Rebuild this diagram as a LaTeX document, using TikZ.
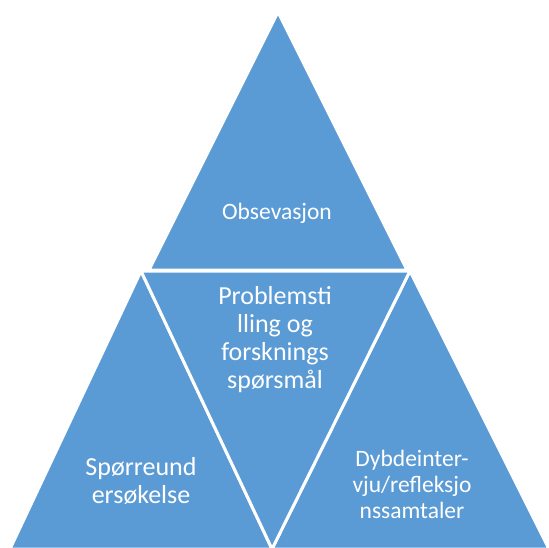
\documentclass[tikz,border=0pt]{standalone}
\usepackage{fontspec}
\setmainfont{Carlito}
\definecolor{pyrblue}{HTML}{5B9BD5}

\begin{document}
\begin{tikzpicture}[
	x=1pt, y=-1pt,
	piece/.style = {fill=pyrblue, draw=white, line width=3pt, line join=miter},
	label/.style = {text=white, align=center, font=\fontsize{23.5}{28}\selectfont},
	biglabel/.style = {label, font=\fontsize{26}{28}\selectfont},
	tightlabel/.style = {label, font=\fontsize{23.5}{26}\selectfont},
]
\useasboundingbox (0,0) rectangle (549,547);

% the four triangles
\filldraw[piece] (278,12) -- (407,270) -- (149,270) -- cycle;
\filldraw[piece] (141,271) -- (272,549) -- (10,549) -- cycle;
\filldraw[piece] (410,271) -- (549,549) -- (272,549) -- cycle;
\filldraw[piece] (141,271) -- (410,271) -- (272,549) -- cycle;

\node[label] (obs) at (277,213) {Obsevasjon};
\node[biglabel] (problem) at (275,340) {Problemsti\\lling og\\forsknings\\spørsmål};
\node[biglabel] (survey) at (141,481) {Spørreund\\ersøkelse};
\node[tightlabel] (interview) at (412,484) {Dybdeinter-\\vju/refleksjo\\nssamtaler};
\end{tikzpicture}
\end{document}
